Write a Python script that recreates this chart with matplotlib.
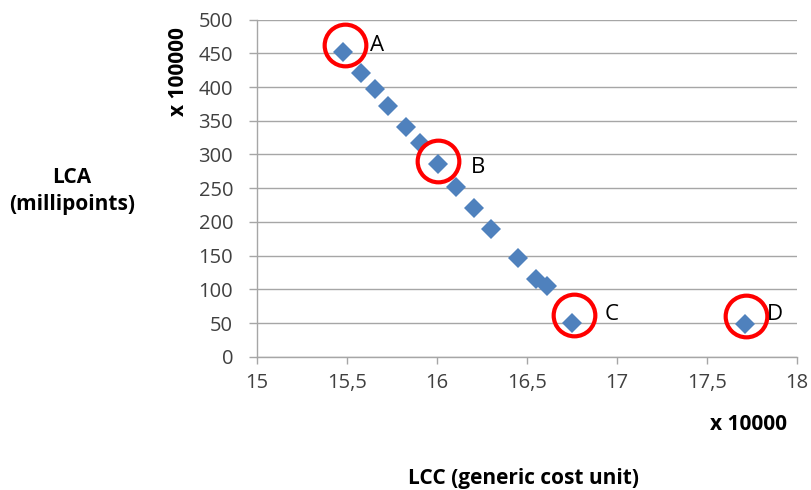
import matplotlib
matplotlib.use("Agg")
import matplotlib.pyplot as plt

# Data (LCC x 10000, LCA x 100000)
lcc = [15.48, 15.58, 15.66, 15.73, 15.83, 15.91, 16.01, 16.11, 16.21, 16.30,
       16.45, 16.55, 16.61, 16.75, 17.71]
lca = [452, 421, 397, 372, 340, 317, 286, 252, 221, 190,
       147, 115, 105, 50, 49]

# Highlighted solutions
hl_labels = ["A", "B", "C", "D"]
hl_x = [15.49, 16.01, 16.76, 17.72]
hl_y = [462, 290, 62, 60]
lbl_x = [15.67, 16.23, 16.97, 17.88]
lbl_y = [462, 281, 62, 62]

xticks = [15, 15.5, 16, 16.5, 17, 17.5, 18]
xticklabels = ["15", "15,5", "16", "16,5", "17", "17,5", "18"]
yticks = list(range(0, 501, 50))

plt.rcParams['font.family'] = ['Open Sans', 'DejaVu Sans']

fig = plt.figure(figsize=(8.11, 4.90), dpi=100)
ax = fig.add_axes([0.3165, 0.272, 0.9824 - 0.3165, 0.96 - 0.272])

ax.plot(lcc, lca, linestyle='none', marker='D', markersize=10,
        color='#4F81BD', markeredgewidth=0, zorder=3)
ax.plot(hl_x, hl_y, linestyle='none', marker='o', markersize=30,
        markerfacecolor='none', markeredgecolor='#FF0000',
        markeredgewidth=3, zorder=4)
for t, x, y in zip(hl_labels, lbl_x, lbl_y):
    ax.text(x, y, t, fontsize=16, va='center', ha='center', color='black', zorder=5)

ax.set_xlim(15, 18)
ax.set_ylim(0, 500)
ax.set_xticks(xticks)
ax.set_xticklabels(xticklabels)
ax.set_yticks(yticks)
ax.grid(axis='y', color='#A6A6A6', linewidth=1)
ax.set_axisbelow(True)
for s in ['top', 'right']:
    ax.spines[s].set_visible(False)
for s in ['left', 'bottom']:
    ax.spines[s].set_color('#A6A6A6')
    ax.spines[s].set_linewidth(1)
ax.tick_params(axis='both', colors='#A6A6A6', labelcolor='#404040', labelsize=14.5,
               width=1)
ax.tick_params(axis='x', length=5, pad=7)
ax.tick_params(axis='y', length=6, pad=11)

fig.text(178 / 811, 1 - 72 / 490, "x 100000", rotation=90, fontsize=15,
         fontweight='bold', ha='center', va='center')
fig.text(72 / 811, 1 - 191 / 490, "LCA\n(millipoints)", fontsize=15,
         fontweight='bold', ha='center', va='center', linespacing=1.4)
fig.text(748 / 811, 1 - 425 / 490, "x 10000", fontsize=15,
         fontweight='bold', ha='center', va='center')
fig.text(524 / 811, 1 - 478 / 490, "LCC (generic cost unit)", fontsize=15,
         fontweight='bold', ha='center', va='center')

fig.savefig("out.png", dpi=100)
